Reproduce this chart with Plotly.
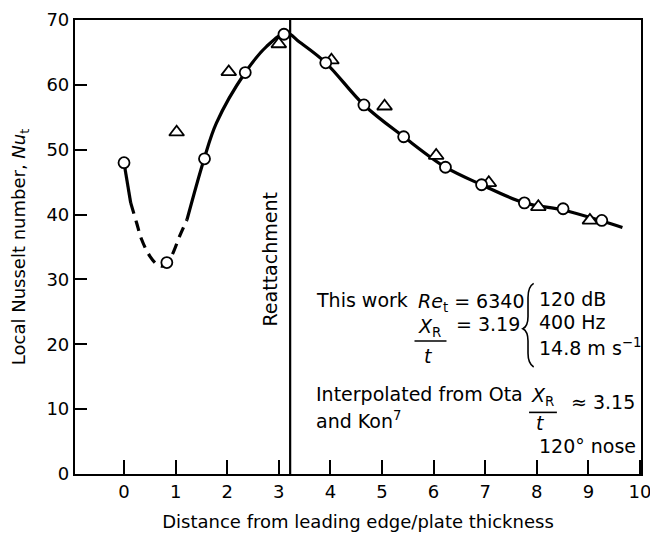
import plotly.graph_objects as go

# ---- data ----
circle_x = [0.0, 0.83, 1.56, 2.35, 3.10, 3.91, 4.65, 5.42, 6.23, 6.93, 7.76, 8.51, 9.26]
circle_y = [48.0, 32.6, 48.6, 61.9, 67.8, 63.4, 56.9, 52.0, 47.3, 44.6, 41.8, 40.9, 39.1]

tri_x = [1.02, 2.03, 3.00, 4.02, 5.05, 6.05, 7.07, 8.03, 9.03]
tri_y = [52.7, 62.0, 66.3, 63.8, 56.7, 49.1, 44.9, 41.2, 39.1]

curve_a_x = [0.0, 0.13]
curve_a_y = [48.0, 41.8]
curve_dash_x = [0.13, 0.245, 0.34, 0.50, 0.66, 0.78, 0.92, 1.08, 1.22]
curve_dash_y = [41.8, 38.7, 36.2, 33.6, 32.2, 32.1, 33.6, 36.7, 39.2]
curve_b_x = [1.22, 1.55, 1.79, 2.35, 2.76, 3.15, 3.40, 3.91, 4.65, 5.42, 6.23, 6.93, 7.76, 8.51, 9.26, 9.66]
curve_b_y = [39.2, 48.5, 54.1, 61.9, 65.9, 68.0, 66.6, 63.4, 56.9, 52.0, 47.3, 44.6, 41.8, 40.7, 39.0, 38.0]

reattach_x = 3.22

x_ticks = list(range(0, 11))
y_ticks = list(range(0, 80, 10))

FONT = "DejaVu Sans"
FS = 19

fig = go.Figure()

line_style = dict(color="black", width=3.2, shape="spline", smoothing=1.0)
fig.add_trace(go.Scatter(x=curve_a_x, y=curve_a_y, mode="lines", line=line_style, hoverinfo="skip"))
fig.add_trace(go.Scatter(x=curve_dash_x, y=curve_dash_y, mode="lines",
                         line=dict(line_style, dash="11px,7px"), hoverinfo="skip"))
fig.add_trace(go.Scatter(x=curve_b_x, y=curve_b_y, mode="lines", line=line_style, hoverinfo="skip"))

fig.add_trace(go.Scatter(x=tri_x, y=tri_y, mode="markers",
                         marker=dict(symbol="triangle-up", size=13, color="white",
                                     line=dict(color="black", width=1.8))))
fig.add_trace(go.Scatter(x=circle_x, y=circle_y, mode="markers",
                         marker=dict(symbol="circle", size=11, color="white",
                                     line=dict(color="black", width=1.8))))

# reattachment line
fig.add_shape(type="line", x0=reattach_x, x1=reattach_x, y0=0, y1=70,
              xref="x", yref="y", line=dict(color="black", width=2.2), layer="below")

def ann(text, x, y, xanchor="left", yanchor="middle", size=FS, angle=0):
    fig.add_annotation(text=text, x=x, y=y, xref="x", yref="y", showarrow=False,
                       xanchor=xanchor, yanchor=yanchor, textangle=angle,
                       font=dict(family=FONT, size=size, color="black"))

ann("Reattachment", 2.82, 33.0, xanchor="center", angle=-90)

ann("This work", 3.69, 26.9)
ann("<i>Re</i><sub>t</sub> = 6340", 5.65, 26.4)
ann("120 dB", 8.01, 27.0)
ann("400 Hz", 8.01, 23.5)
ann("14.8 m s<sup>\u22121</sup>", 8.01, 19.6)

ann("<i>X</i><sub>R</sub>", 5.65, 22.6)
fig.add_shape(type="line", x0=5.63, x1=6.25, y0=20.5, y1=20.5, xref="x", yref="y",
              line=dict(color="black", width=1.6))
ann("<i>t</i>", 5.90, 18.2, xanchor="center")
ann("= 3.19", 6.40, 23.1)

# brace
fig.add_shape(type="path", xref="x", yref="y",
              path="M 7.94,29.4 Q 7.83,28.9 7.83,27.2 L 7.83,24.3 Q 7.83,22.8 7.73,22.4 "
                   "Q 7.83,22.0 7.83,20.5 L 7.83,18.6 Q 7.83,17.0 7.94,16.5",
              line=dict(color="black", width=1.6))

ann("Interpolated from Ota", 3.69, 12.4)
ann("and Kon<sup>7</sup>", 3.69, 8.4)
ann("<i>X</i><sub>R</sub>", 7.85, 12.0)
fig.add_shape(type="line", x0=7.85, x1=8.39, y0=9.5, y1=9.5, xref="x", yref="y",
              line=dict(color="black", width=1.6))
ann("<i>t</i>", 8.08, 7.9, xanchor="center")
ann("\u2248 3.15", 8.63, 11.1)
ann("120\u00b0 nose", 8.0, 4.3)

fig.update_layout(
    width=650, height=534,
    margin=dict(l=75, r=9, t=20, b=60, autoexpand=False),
    paper_bgcolor="white", plot_bgcolor="white",
    showlegend=False,
    font=dict(family=FONT, size=18, color="black"),
)
fig.update_xaxes(range=[-0.95, 10.02], tickvals=x_ticks, ticktext=[str(v) for v in x_ticks],
                 ticks="inside", ticklen=14, tickwidth=2, tickcolor="black",
                 showline=True, linewidth=2.2, linecolor="black", mirror=True,
                 showgrid=False, zeroline=False, automargin=False,
                 ticklabeloverflow="allow",
                 tickfont=dict(family=FONT, size=18),
                 title=dict(text="Distance from leading edge/plate thickness",
                            font=dict(family=FONT, size=18), standoff=15))
fig.update_yaxes(range=[0, 70], tickvals=y_ticks, ticktext=[str(v) for v in y_ticks],
                 ticks="inside", ticklen=12, tickwidth=2, tickcolor="black",
                 showline=True, linewidth=2.2, linecolor="black", mirror=True,
                 showgrid=False, zeroline=False, automargin=False,
                 tickfont=dict(family=FONT, size=18),
                 title=dict(text="Local Nusselt number, <i>Nu</i><sub>t</sub>",
                            font=dict(family=FONT, size=18), standoff=16))

fig.write_html("out.html")
